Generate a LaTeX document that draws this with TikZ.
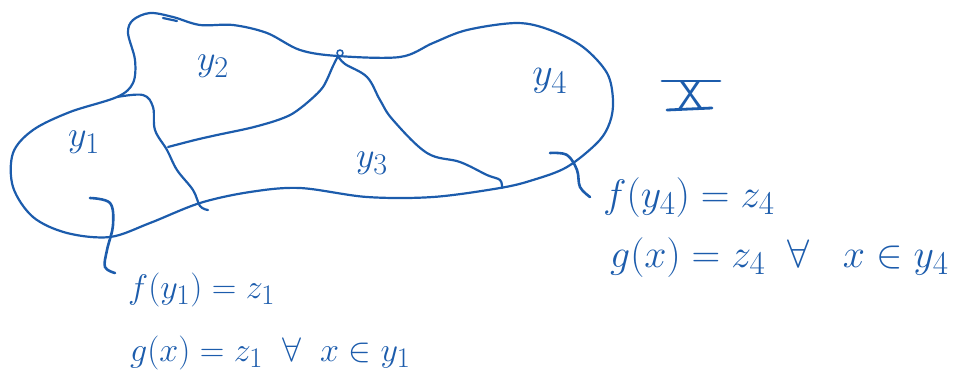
\documentclass[tikz,border=0pt]{standalone}
\usepackage{amssymb}
\definecolor{ink}{RGB}{28,92,172}
\newcommand{\bigtxt}[2]{\scalebox{#1}{\Huge #2}}
\tikzset{
  pen/.style={draw=ink, line width=2.2pt, line cap=round, line join=round},
  lbl/.style={text=ink, inner sep=0pt},
  eqn/.style={text=ink, inner sep=0pt, anchor=base west},
}
\begin{document}
\begin{tikzpicture}[x=1pt,y=-1pt]
\useasboundingbox (0,0) rectangle (964,389);
% outer boundary of X
\draw[pen] plot[smooth cycle, tension=0.55] coordinates {
 (133,20) (150,13) (173,17) (200,25) (233,25) (267,33) (300,50) (338,56)
 (400,57) (433,43) (467,30) (517,23) (550,30) (583,47) (607,73) (613,100)
 (610,122) (598,142) (567,167) (533,180) (500,188) (433,197) (367,197)
 (300,188) (250,192) (200,203) (150,223) (110,237) (67,233) (33,217)
 (13,187) (13,153) (33,130) (70,112) (117,97) (133,83) (135,60) (128,33)};
\draw[pen] (163,18) -- (177,21);
\draw[pen, line width=1.6pt] (340,53) circle (3);
% dividers
\draw[pen] plot[smooth, tension=0.6] coordinates {
 (117,97) (143,95) (153,107) (155,130) (167,150) (177,170) (193,190) (200,206) (208,210)};
\draw[pen] plot[smooth, tension=0.5] coordinates {
 (168,147) (195,140) (217,135) (250,128) (275,121) (292,114) (308,102) (323,87) (333,66) (338,56)};
\draw[pen] plot[smooth, tension=0.6] coordinates {
 (338,56) (345,64) (367,77) (380,100) (393,120) (427,153) (460,162) (487,175) (500,180) (502,188)};
% brackets
\draw[pen, line width=2.6pt] plot[smooth, tension=0.6] coordinates {
 (90,198) (110,203) (113,225) (107,250) (105,267) (115,273)};
\draw[pen, line width=2.6pt] plot[smooth, tension=0.6] coordinates {
 (550,153) (567,155) (577,170) (580,187) (590,197)};
% region labels
\node[lbl] (y1) at (84,142) {\bigtxt{1.45}{$y_1$}};
\node[lbl] (y2) at (213,66) {\bigtxt{1.45}{$y_2$}};
\node[lbl] (y3) at (372,163) {\bigtxt{1.45}{$y_3$}};
\node[lbl] (y4) at (550,81) {\bigtxt{1.6}{$y_4$}};
% set name
\node[lbl] (X) at (691,95) {\bigtxt{1.6}{\sffamily X}};
\draw[pen, line width=2.8pt] (662,81) -- (720,81);
\draw[pen, line width=2.8pt] (667,110) -- (712,108);
% equations
\node[eqn] (f1) at (128,298) {\bigtxt{1.37}{$f(y_1) = z_1$}};
\node[eqn] (g1) at (130,361) {\bigtxt{1.37}{$g(x) = z_1 \;\; \forall \;\; x \in y_1$}};
\node[eqn] (f4) at (603,207) {\bigtxt{1.6}{$f(y_4) = z_4$}};
\node[eqn] (g4) at (610,267) {\bigtxt{1.6}{$g(x) = z_4 \;\; \forall \;\;\; x \in y_4$}};
\end{tikzpicture}
\end{document}
